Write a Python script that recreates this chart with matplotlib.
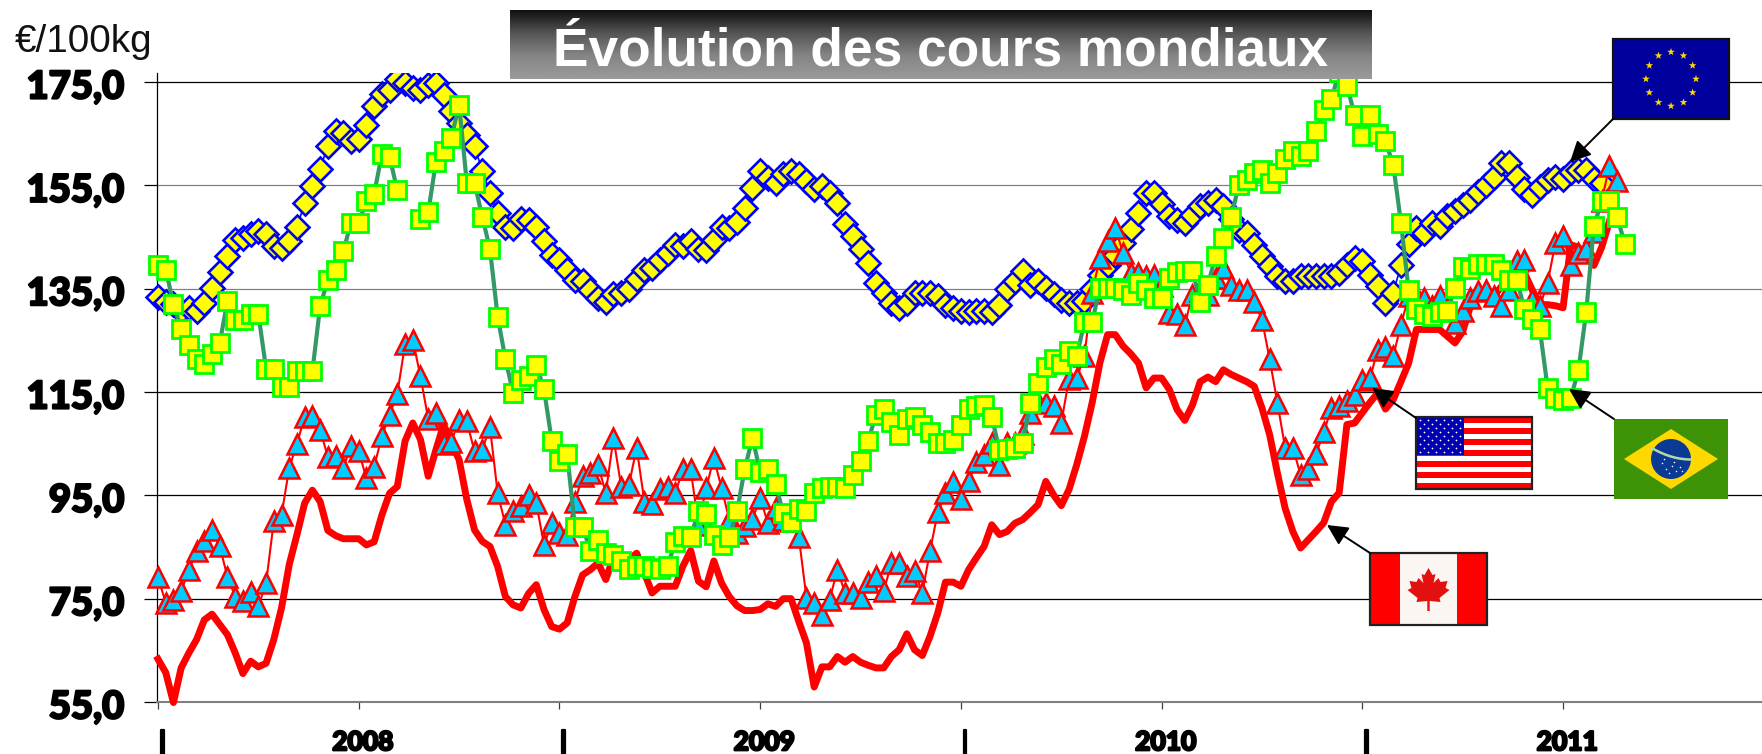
import numpy as np
import matplotlib
matplotlib.use("Agg")
import matplotlib.pyplot as plt
from matplotlib.patches import Rectangle, Polygon, Ellipse
from matplotlib.transforms import Bbox, ScaledTranslation
import matplotlib.patheffects as pe

nan = float("nan")

eu = [133.3,132.5,132,130.6,131.2,130.6,132.2,135.1,138.2,141.3,144.5,144.8,145.5,146.1,145.5,143.2,142.9,144.2,146.9,151.6,
154.9,158.2,162.7,165.6,165.1,163.5,164,166.7,170.4,172.7,173.4,175.5,174.8,173.8,173.5,174.5,174.9,172.5,169.3,167,
164.8,162.7,157.7,153.6,149.6,147,146.7,148.4,148.2,146.9,144.2,141.6,140.6,138.7,136.7,136.4,134.8,133.2,132.4,133.9,
134.1,135,136.8,138.7,139,140.5,141.9,143.5,143.2,144.2,142.6,142.4,144.4,147,146.8,147.9,150.6,154.5,157.7,156.4,
155.5,157.1,157.7,157.1,155.8,154.2,154.8,153.5,151.6,147.6,145.2,142.6,140,136.1,134.2,132.3,131.3,132.3,134.2,134.1,
134.2,133.5,131.9,131.3,130.6,130.4,130.6,130.6,130.4,131.9,135,136.4,138.4,135.8,136.4,135.2,133.9,132.9,132.3,132.3,
132.6,135,137.7,139.5,141.5,143.9,146.5,149.7,153.5,153.5,151.3,149,148.3,147.7,149.3,151,151.6,152.2,151,148.4,
146.4,145.8,143.5,141.3,139.3,137.4,136.4,136.4,137.4,137.4,137.4,137.4,137.4,138,139.6,141,140.3,137.7,135.5,132.2,
134.2,139.5,143.7,146.7,145.8,147.7,147.1,149,150,151.1,152.2,153.8,155.1,156.7,159.3,159.3,156.6,154.2,153.2,154.7,
156,156.7,156.2,157.5,157.9,157.9,156.2,155.4]

brazil = [139.6,138.7,132.1,127.1,124,121.4,120.4,122.4,124.5,132.7,129,129,130,130.1,119.5,119.5,116,116,119,119,
119,131.6,136.7,138.7,142.2,147.8,147.8,151.9,153.4,161,160.5,154,nan,nan,148.4,149.8,159.5,161.6,164.2,170.6,
155.5,155.5,148.9,142.7,129.5,121.4,114.8,117.4,118,120.3,115.5,105.6,101.6,103,88.9,88.9,84.3,86.4,83.8,83.4,
82.2,80.8,81.3,81.3,80.9,80.7,81.3,85.9,87.2,86.9,91.9,91.4,87.4,85.3,86.9,91.9,100.1,106.1,99.6,100.1,
97.1,91.6,89.8,92.4,91.9,95.4,96.4,96.7,96.7,96.4,99,101.6,105.6,110.6,111.7,109.2,106.6,109.8,110.2,108.7,
107.2,105.1,105.2,105.7,108.7,111.7,112.2,112.4,110.2,103.7,104,104.2,105.1,112.8,116.8,119.9,121.4,120.5,122.9,121.9,
128.5,128.5,135.2,135.2,135.2,134.7,133.7,136.1,134.8,133.1,133.2,137.1,138.2,138.4,138.4,132.5,135.8,141.3,144.8,148.9,
155,156.1,157.3,158,155.4,157.3,160,161.6,160.7,161.6,165.6,169.5,171.7,177,174.3,168.7,164.6,168.7,165,163.5,
159,147.8,134.7,131.1,130,129.8,130.4,130.6,135.1,139.2,138.8,139.8,139.8,139.8,138.7,136.6,136.7,131.1,129.1,127.1,
115.8,113.8,113.4,113.8,119.3,130.5,147.2,151.9,151.9,148.9,143.7]

usa = [79.2,74.2,74.8,76.4,80.6,84.2,86.1,88.3,85.1,79.2,75.4,74.5,76.2,73.5,78,90,91.2,100.3,105,110.2,
110.4,107.6,102.5,102.7,100.3,104.6,103.5,98.3,100.5,106.5,110.6,114.7,124.2,125.1,118,109.8,111,105,105.4,109.6,
109.3,103.5,103.8,108.2,95.4,89.3,91.9,92.9,95.1,93.5,85.4,89.6,87.7,87.4,93.8,98.7,99.3,100.9,95.4,106.1,
96.7,97,104.2,93.8,93.4,96.2,96.7,95.4,100,100,89.3,96.4,102.2,96.4,90.3,87.7,89,90.4,94.5,89.6,
92.5,90.3,90,87,75.1,74.2,71.9,74.8,80.6,76.1,76.1,75.1,78.3,79.3,76.4,81.9,81.9,79.3,80.3,76.1,
84.2,91.7,95.4,97.5,94.2,97.7,101.4,102.9,105.1,100.9,105.1,105.1,106.9,111,113,112.9,112.3,109,117.5,117.7,
122,134.2,141,144.2,146.8,141.9,138,138,137.4,137.7,135.5,130.3,130,128,133.8,134.5,133.8,137,139,135.8,
134.8,134.8,132.5,129,121.3,112.9,104.2,104.2,99,100,103,107.2,111.9,112.2,113.2,114.5,117.3,117.7,123.2,123.8,
121.9,128,133.5,133.8,133.2,131.6,133.5,131,128.3,130.6,133.2,134.5,134.8,133.5,131.6,134.8,140.3,140.6,132.9,131.6,
136.1,143.8,145.1,139.6,141.9,142.6,146,152,158.7,155.8]

canada = [63.3,60.7,54.9,61.6,64.5,67.1,70.9,72,70,68,64.5,60.5,62.9,61.8,62.5,67.1,73.2,81.6,87.4,93.5,
96,93.8,88.2,87.2,86.6,86.6,86.6,85.4,86,91.2,95.4,96.7,105.5,109,105.8,98.7,103.8,108.7,105.1,101.9,
94.2,88.3,86.1,85.1,81.2,75.4,73.8,73.2,76,77.7,72.9,69.6,69.1,70.3,75.4,79.6,80.6,81.9,78.7,83,
81.3,82.5,83.8,80,76.1,77.4,77.4,77.4,81.3,84.3,78.4,77.3,82.3,78,75.4,73.6,72.7,72.7,72.9,74,
73.5,75,75,70.6,66.4,57.9,61.8,61.8,63.8,62.7,63.8,62.7,62.1,61.6,61.6,63.8,65.1,68.2,65.1,64,
67.7,72.2,78.2,78.2,77.4,80.6,82.9,85.1,89.3,87.4,88,89.6,90.3,91.7,93.2,97.7,95.1,93,96.1,100.9,
106.4,112.9,120.6,126.1,126.1,123.9,122.4,120.6,115.8,117.7,117.7,115.5,111.6,109.5,112.5,117,117.9,117,119.3,118.4,
117.7,117,116.1,111.9,106.7,99.3,92.5,88,84.8,86.4,88,89.7,93.8,95.5,108.7,109,111,113,114.8,111.7,
113.5,117,120.6,127.1,127.1,127.1,127.1,125.8,124.5,126.7,131.6,133.8,134.2,133.5,135.4,138,140,138,134.8,131.9,
131.9,131.7,131.3,143.5,143,141,139.5,143,148]

y_ticks = [55, 75, 95, 115, 135, 155, 175]
y_tick_labels = ["55,0", "75,0", "95,0", "115,0", "135,0", "155,0", "175,0"]
grid_colors = ["#808080", "#000000", "#000000", "#000000", "#808080", "#808080", "#000000"]
x_ticks = [0, 26, 52, 78, 104, 130, 156, 182]
x_tick_labels = ["|", "2008", "|", "2009", "|", "2010", "|", "2011"]
title_text = "Évolution des cours mondiaux"
unit_text = "€/100kg"

W, H = 1762, 754
DPI = 100
fig = plt.figure(figsize=(W / DPI, H / DPI), dpi=DPI, facecolor="white")
L, R, T, B = 157, 1762, 73, 702
ax = fig.add_axes([L / W, 1 - B / H, (R - L) / W, (B - T) / H])
ax.set_xlim(-0.13, 207.77)
ax.set_ylim(55, 176.74)
for s in ("top", "right"):
    ax.spines[s].set_visible(False)
ax.spines["left"].set_color("black")
ax.spines["left"].set_linewidth(0.9)
ax.spines["bottom"].set_color("#808080")
ax.spines["bottom"].set_linewidth(1.5)

for v, c in zip(y_ticks, grid_colors):
    ax.axhline(v, color=c, lw=0.9, zorder=1)
FONT = "Lato"
heavy = [pe.withStroke(linewidth=1.6, foreground="black")]
ax.set_yticks(y_ticks)
ax.set_yticklabels(y_tick_labels, fontfamily=FONT, fontweight="black", fontsize=27.5, path_effects=heavy)
ax.tick_params(axis="y", length=9.4, width=0.9, pad=14)
for t, c in zip(ax.yaxis.get_major_ticks(), grid_colors):
    t.tick1line.set_color(c)
shift = ScaledTranslation(0, -2.5 / DPI, fig.dpi_scale_trans)
for lab in ax.get_yticklabels():
    lab.set_transform(lab.get_transform() + shift)
ax.set_xticks(x_ticks)
ax.set_xticklabels([])
ax.tick_params(axis="x", length=5, width=0.9, color="#404040")
for pos, lab in zip(x_ticks, x_tick_labels):
    ax.annotate(lab, xy=(pos, 0), xycoords=("data", "axes fraction"), xytext=(3, -29),
                textcoords="offset points", ha="center", va="center", annotation_clip=False,
                fontfamily=FONT, fontweight="black", fontsize=19, path_effects=heavy)

lines = []
lines += ax.plot(np.arange(len(eu)), eu, color="#0000FF", lw=1.2, marker="D", ms=12.5, mfc="#FFFF00",
                 mec="#0000FF", mew=1.9, zorder=3)
lines += ax.plot(np.arange(len(canada)), canada, color="#FF0000", lw=5.0, solid_joinstyle="round", zorder=4)
lines += ax.plot(np.arange(len(usa)), usa, color="#FF0000", lw=1.5, marker="^", ms=14.5, mfc="#00CCFF",
                 mec="#FF0000", mew=1.8, zorder=5)
lines += ax.plot(np.arange(len(brazil)), brazil, color="#339966", lw=3.0, marker="s", ms=13, mfc="#FFFF00",
                 mec="#00FF00", mew=2.0, zorder=6)
# marks may overhang the left axis and the bottom, but are cut at the top of the plot
for ln in lines:
    ln.set_clip_box(Bbox.from_extents(0, 0, W, H - T))

# overlay in pixel coordinates: title, unit, flags, arrows
ov = fig.add_axes([0, 0, 1, 1], zorder=10)
ov.axis("off")
ov.patch.set_alpha(0)

grad = np.linspace(0, 1, 64).reshape(-1, 1)
ov.imshow(grad, extent=(510, 1372, 79, 10), aspect="auto", cmap=matplotlib.colors.LinearSegmentedColormap.from_list(
    "t", ["#111111", "#555555", "#858585", "#9A9A9A"]), zorder=1)
ov.set_xlim(0, W)
ov.set_ylim(H, 0)
ov.text(941, 51, title_text, color="white", fontsize=38.3, fontweight="bold", fontfamily="Liberation Sans",
        ha="center", va="center", zorder=2)
ov.text(15, 52, unit_text, color="#111111", fontsize=27.8, fontfamily="Liberation Sans", ha="left",
        va="baseline", zorder=2)


def star(cx, cy, r, color, z=4):
    a = np.arange(10) * np.pi / 5 - np.pi / 2
    rr = np.where(np.arange(10) % 2 == 0, r, r * 0.4)
    ov.add_patch(Polygon(np.c_[cx + rr * np.cos(a), cy + rr * np.sin(a)], closed=True, fc=color, ec="none", zorder=z))


# EU flag
ov.add_patch(Rectangle((1613, 39), 116, 80, fc="#00009C", ec="#111111", lw=1.6, zorder=3))
for k in range(12):
    th = k * np.pi / 6
    star(1671 + 25 * np.sin(th), 79 - 27 * np.cos(th), 4, "#FFD700")

# US flag
x0, y0, w, h = 1416, 417, 116, 72
ov.add_patch(Rectangle((x0, y0), w, h, fc="white", ec="none", zorder=3))
for k in range(13):
    if k % 2 == 0:
        ov.add_patch(Rectangle((x0, y0 + k * h / 13), w, h / 13, fc="#FF0000", ec="none", zorder=3))
ov.add_patch(Rectangle((x0, y0), 48, 38, fc="#0000B0", ec="none", zorder=3))
sx, sy = [], []
for r in range(9):
    n = 6 if r % 2 == 0 else 5
    off = 4 if r % 2 == 0 else 8
    for c in range(n):
        sx.append(x0 + off + c * 8)
        sy.append(y0 + 3 + r * 4)
ov.scatter(sx, sy, s=1.6, c="white", linewidths=0, zorder=4)
ov.add_patch(Rectangle((x0, y0), w, h, fc="none", ec="#222222", lw=1.6, zorder=4))

# Canada flag
x0, y0, w, h = 1370, 553, 117, 72
ov.add_patch(Rectangle((x0, y0), w, h, fc="#FF0000", ec="none", zorder=3))
ov.add_patch(Rectangle((x0 + 30, y0), 57, h, fc="#FBF6F2", ec="none", zorder=3))
leaf = np.array([(0, -20), (4, -13), (7, -14), (5, -5), (10, -10), (12, -6), (19, -7), (17, 0), (21, 2), (11, 10),
                 (12, 14), (1.2, 13), (1.2, 23), (-1.2, 23), (-1.2, 13), (-12, 14), (-11, 10), (-21, 2), (-17, 0),
                 (-19, -7), (-12, -6), (-10, -10), (-5, -5), (-7, -14), (-4, -13)], float)
ov.add_patch(Polygon(leaf + [x0 + 58.5, y0 + 35], closed=True, fc="#E41010", ec="none", zorder=4))
ov.add_patch(Rectangle((x0, y0), w, h, fc="none", ec="#222222", lw=1.6, zorder=4))

# Brazil flag
x0, y0, w, h = 1614, 419, 114, 80
ov.add_patch(Rectangle((x0, y0), w, h, fc="#3E9206", ec="none", zorder=3))
ov.add_patch(Polygon([(x0 + 10, y0 + 40), (x0 + 57, y0 + 10), (x0 + 104, y0 + 40), (x0 + 57, y0 + 70)],
                     closed=True, fc="#FFD800", ec="none", zorder=4))
ov.add_patch(Ellipse((x0 + 57, y0 + 40), 40, 40, fc="#0B3A94", ec="none", zorder=5))
arc = np.linspace(-0.95, 0.95, 30)
ov.plot(x0 + 57 + 20 * arc, y0 + 36 + 6 * arc - 3 * (arc ** 2 - 0.5), color="#B8D8A8", lw=1.8, zorder=6)
ov.scatter([x0 + 48, x0 + 52, x0 + 58, x0 + 62, x0 + 66, x0 + 55, x0 + 60, x0 + 68, x0 + 50],
           [y0 + 44, y0 + 50, y0 + 47, y0 + 52, y0 + 48, y0 + 54, y0 + 43, y0 + 52, y0 + 40],
           s=1.2, c="white", linewidths=0, zorder=6)

# arrows
for (xs, ys, xt, yt) in [(1613, 119, 1570, 162), (1416, 418, 1372, 388), (1370, 553, 1327, 525), (1614, 419, 1569, 389)]:
    ov.annotate("", xy=(xt, yt), xytext=(xs, ys), zorder=7,
                arrowprops=dict(arrowstyle="-|>,head_length=0.9,head_width=0.45", color="black", lw=1.4,
                                shrinkA=0, shrinkB=0, mutation_scale=14))

fig.savefig("out.png", dpi=DPI)
